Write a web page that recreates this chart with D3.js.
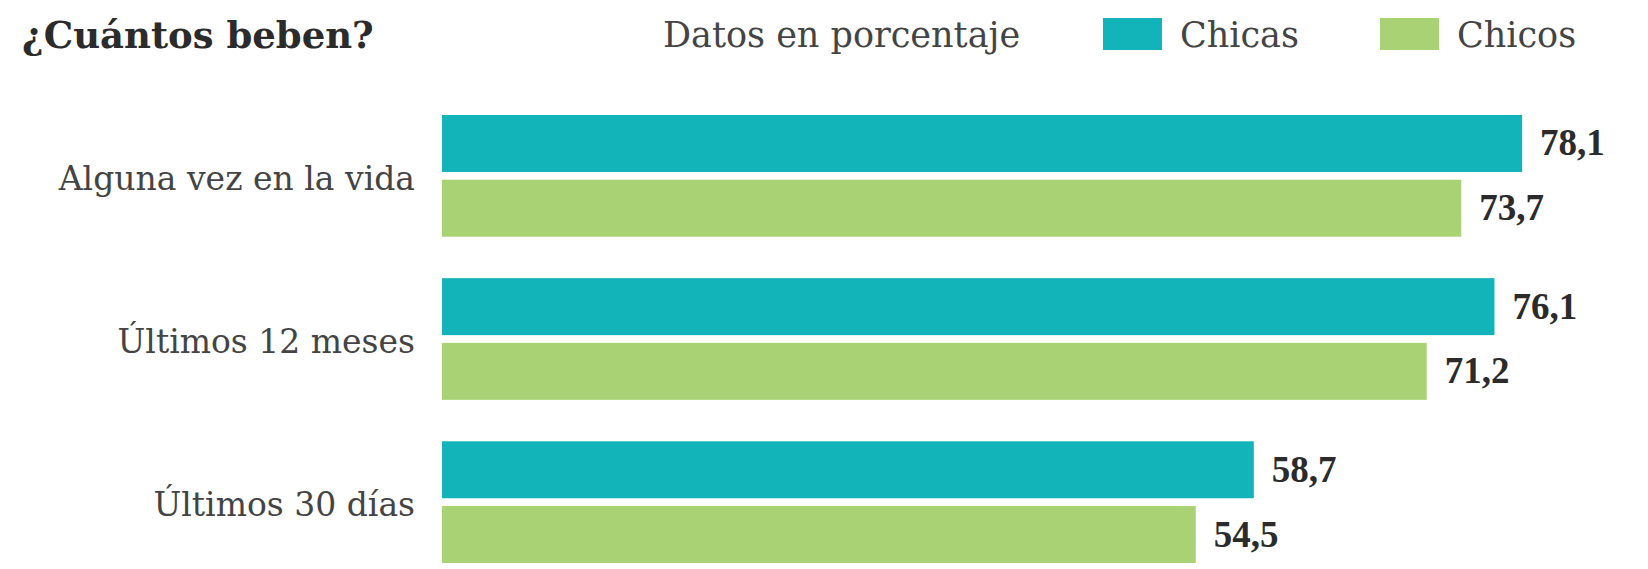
<!DOCTYPE html>
<html>
<head>
<meta charset="utf-8">
<script src="https://cdn.jsdelivr.net/npm/d3@7"></script>
<style>
  html, body { margin: 0; padding: 0; background: #fff; }
  svg { display: block; }
</style>
</head>
<body>
<svg id="chart" width="1648" height="569"></svg>
<script>
const categories = ["Alguna vez en la vida", "Últimos 12 meses", "Últimos 30 días"]
const series = ["Chicas", "Chicos"]
const chicas = [78.1, 76.1, 58.7]
const chicos = [73.7, 71.2, 54.5]
const colors = { Chicas: "#13b4b9", Chicos: "#a9d275" }

const svg = d3.select("#chart")
const width = 1648

const rows = categories.map((c, i) => ({ cat: c, Chicas: chicas[i], Chicos: chicos[i] }))

const x = d3.scaleLinear().domain([0, 100]).range([442, 1825])
const y = d3.scaleBand().domain(categories).range([115, 563]).paddingInner(0.254).paddingOuter(0)
const ySub = d3.scaleBand().domain(series).range([0, y.bandwidth()]).paddingInner(0.12)

const fmt = v => d3.format(".1f")(v).replace(".", ",")

// title
svg.append("text")
  .attr("x", 22)
  .attr("y", 48)
  .text("¿Cuántos beben?")
  .attr("font-family", "DejaVu Serif")
  .attr("font-weight", "bold")
  .attr("font-size", 37)
  .attr("fill", "#2b2b2b")

// legend
svg.append("text")
  .attr("x", 663)
  .attr("y", 47)
  .text("Datos en porcentaje")
  .attr("font-family", "DejaVu Serif")
  .attr("font-size", 35)
  .attr("fill", "#444")

const legendX = { Chicas: 1103, Chicos: 1380 }
const legend = svg.append("g").selectAll("g")
  .data(series)
  .join("g")
  .attr("transform", d => `translate(${legendX[d]},0)`)
legend.append("rect")
  .attr("x", 0)
  .attr("y", 18)
  .attr("width", 59)
  .attr("height", 32)
  .attr("fill", d => colors[d])
legend.append("text")
  .attr("x", 77)
  .attr("y", 47)
  .text(d => d)
  .attr("font-family", "DejaVu Serif")
  .attr("font-size", 35)
  .attr("fill", "#444")

// category labels
svg.append("g").selectAll("text")
  .data(categories)
  .join("text")
  .attr("x", 415)
  .attr("y", d => y(d) + y.bandwidth() / 2 + 14)
  .attr("text-anchor", "end")
  .text(d => d)
  .attr("font-family", "DejaVu Serif")
  .attr("font-size", 33)
  .attr("fill", "#444")

// bars
const groups = svg.append("g").selectAll("g")
  .data(rows)
  .join("g")
  .attr("transform", d => `translate(0,${y(d.cat)})`)

groups.selectAll("rect")
  .data(d => series.map(s => ({ key: s, value: d[s] })))
  .join("rect")
  .attr("x", x(0))
  .attr("y", d => ySub(d.key))
  .attr("width", d => x(d.value) - x(0))
  .attr("height", ySub.bandwidth())
  .attr("fill", d => colors[d.key])

groups.selectAll("text")
  .data(d => series.map(s => ({ key: s, value: d[s] })))
  .join("text")
  .attr("x", d => x(d.value) + 18)
  .attr("y", d => ySub(d.key) + ySub.bandwidth() / 2 + 12)
  .text(d => fmt(d.value))
  .attr("font-family", "Liberation Serif")
  .attr("font-weight", "bold")
  .attr("font-size", 37)
  .attr("fill", "#2b2b2b")
</script>
</body>
</html>
